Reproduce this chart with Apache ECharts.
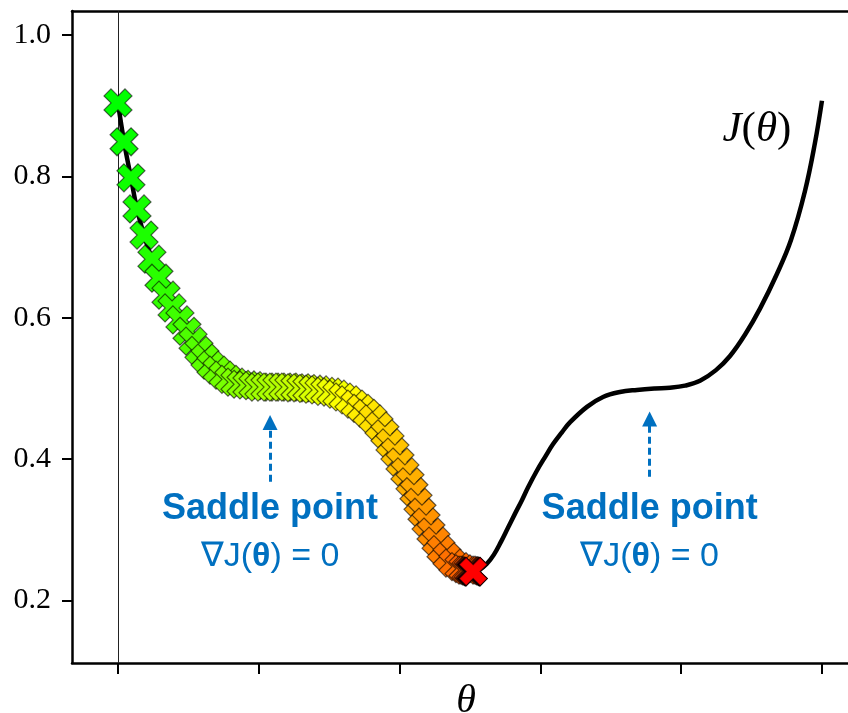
<!DOCTYPE html>
<html>
<head>
<meta charset="utf-8">
<title>Gradient descent on J(θ)</title>
<script src="https://cdn.jsdelivr.net/npm/echarts@6/dist/echarts.min.js"></script>
<style>
  html, body { margin: 0; padding: 0; background: #ffffff; }
  #chart { width: 848px; height: 713px; }
</style>
</head>
<body>
<div id="chart"></div>
<script>
// Cost curve J(θ)
const curveTheta = [
  0.000, 0.043, 0.092, 0.135, 0.185, 0.241, 0.341, 0.440, 0.533, 0.618,
  0.703, 0.788, 0.874, 1.001, 1.172, 1.342, 1.470, 1.598, 1.726, 1.854,
  1.967, 2.074, 2.159, 2.259, 2.337, 2.422, 2.486, 2.523, 2.570, 2.620,
  2.670, 2.720, 2.770, 2.820, 2.869, 2.912, 2.976, 3.033, 3.089, 3.153,
  3.210, 3.331, 3.445, 3.565, 3.686, 3.814, 3.920, 4.027, 4.134, 4.247,
  4.347, 4.453, 4.560, 4.680, 4.780, 4.879, 4.950, 5.000
];
const curveJ = [
  0.904, 0.849, 0.798, 0.754, 0.717, 0.683, 0.632, 0.597, 0.567, 0.543,
  0.526, 0.513, 0.506, 0.502, 0.502, 0.500, 0.496, 0.488, 0.472, 0.447,
  0.410, 0.368, 0.325, 0.284, 0.262, 0.248, 0.243, 0.241, 0.244, 0.252,
  0.265, 0.283, 0.303, 0.323, 0.342, 0.360, 0.384, 0.403, 0.421, 0.438,
  0.452, 0.474, 0.488, 0.495, 0.498, 0.500, 0.501, 0.504, 0.511, 0.526,
  0.546, 0.576, 0.613, 0.662, 0.710, 0.779, 0.847, 0.907
];

// Gradient descent iterates (θ_k, J(θ_k))
const stepTheta = [
  0.000, 0.043, 0.092, 0.135, 0.185, 0.241, 0.291, 0.341, 0.384, 0.440,
  0.490, 0.533, 0.575, 0.618, 0.661, 0.703, 0.746, 0.788, 0.831, 0.874,
  0.916, 0.959, 1.001, 1.044, 1.087, 1.129, 1.172, 1.214, 1.257, 1.300,
  1.342, 1.385, 1.428, 1.470, 1.513, 1.555, 1.598, 1.641, 1.683, 1.726,
  1.768, 1.811, 1.854, 1.896, 1.932, 1.967, 2.003, 2.038, 2.074, 2.102,
  2.131, 2.159, 2.188, 2.223, 2.259, 2.294, 2.337, 2.379, 2.422, 2.450,
  2.472, 2.486, 2.496, 2.503, 2.508, 2.512, 2.515, 2.517, 2.519, 2.520,
  2.521, 2.522, 2.522, 2.523
];
const stepJ = [
  0.904, 0.849, 0.798, 0.754, 0.717, 0.683, 0.656, 0.632, 0.614, 0.597,
  0.581, 0.567, 0.554, 0.543, 0.533, 0.526, 0.519, 0.513, 0.509, 0.506,
  0.505, 0.504, 0.502, 0.502, 0.502, 0.502, 0.502, 0.502, 0.501, 0.501,
  0.500, 0.499, 0.498, 0.496, 0.495, 0.492, 0.488, 0.484, 0.478, 0.472,
  0.465, 0.457, 0.447, 0.436, 0.423, 0.410, 0.396, 0.382, 0.368, 0.354,
  0.339, 0.325, 0.311, 0.297, 0.284, 0.272, 0.262, 0.253, 0.248, 0.245,
  0.243, 0.243, 0.242, 0.242, 0.242, 0.241, 0.241, 0.241, 0.241, 0.241,
  0.241, 0.241, 0.241, 0.241
];

const xTicks = [0, 1, 2, 3, 4, 5];
const yTicks = [0.2, 0.4, 0.6, 0.8, 1.0];

const saddleText = 'Saddle point';
const gradText = '∇J({b|θ}) = 0';

// Annotation anchors (θ, J) for the two saddle callouts
const notes = [
  { x: 1.080, title: 0.330, grad: 0.262, arrowFrom: 0.368, arrowTo: 0.452 },
  { x: 3.776, title: 0.330, grad: 0.262, arrowFrom: 0.375, arrowTo: 0.457 }
];

const BLUE = '#0070C0';
const crossPath = 'path://M0.25 0 L0.5 0.25 L0.75 0 L1 0.25 L0.75 0.5 L1 0.75 L0.75 1 L0.5 0.75 L0.25 1 L0 0.75 L0.25 0.5 L0 0.25 Z';

const curveData = curveTheta.map((t, i) => [t, curveJ[i]]);
const stepData = stepTheta.map((t, i) => [t, stepJ[i]]);
const nSteps = stepData.length;

// green -> yellow -> red along the iterations
function stepColor(i) {
  const hue = 120 * (1 - i / (nSteps - 1));
  return 'hsl(' + hue.toFixed(1) + ',100%,50%)';
}

const noteLabels = [];
notes.forEach(n => {
  noteLabels.push({ value: [n.x, n.title], label: { formatter: saddleText, fontWeight: 'bold', fontSize: 36 } });
  noteLabels.push({ value: [n.x, n.grad], label: { formatter: gradText, fontSize: 34 } });
});

const chart = echarts.init(document.getElementById('chart'), null, { renderer: 'canvas' });

chart.setOption({
  animation: false,
  backgroundColor: '#ffffff',
  grid: { left: 72, right: 0, top: 11, bottom: 50, containLabel: false, outerBoundsMode: 'none' },
  xAxis: [
    {
      type: 'value',
      min: -0.3267,
      max: 5.185,
      position: 'bottom',
      name: 'θ',
      nameLocation: 'middle',
      nameGap: 18,
      nameTextStyle: { fontFamily: 'Liberation Serif', fontStyle: 'italic', fontSize: 40, color: '#000', padding: [0, 0, 0, 12] },
      axisLine: { show: true, onZero: false, lineStyle: { color: '#000', width: 2.5 } },
      axisTick: { show: true, inside: false, length: 11, customValues: xTicks, lineStyle: { color: '#000', width: 2 } },
      axisLabel: { show: false },
      splitLine: { show: false }
    },
    {
      type: 'value',
      min: -0.3267,
      max: 5.185,
      position: 'top',
      axisLine: { show: true, onZero: false, lineStyle: { color: '#000', width: 2.5 } },
      axisTick: { show: false },
      axisLabel: { show: false },
      splitLine: { show: false }
    }
  ],
  yAxis: {
    type: 'value',
    min: 0.1117,
    max: 1.034,
    axisLine: { show: true, onZero: false, lineStyle: { color: '#000', width: 2.5 } },
    axisTick: { show: true, inside: false, length: 10, customValues: yTicks, lineStyle: { color: '#000', width: 2 } },
    axisLabel: {
      show: true,
      customValues: yTicks,
      margin: 21,
      formatter: v => v.toFixed(1),
      fontFamily: 'Liberation Serif',
      fontSize: 30,
      color: '#000'
    },
    splitLine: { show: false }
  },
  series: [
    {
      name: 'J(θ)',
      type: 'line',
      data: curveData,
      showSymbol: false,
      smooth: 0.4,
      lineStyle: { color: '#000', width: 4.5 },
      z: 2,
      silent: true,
      markLine: {
        silent: true,
        symbol: ['none', 'none'],
        label: { show: false },
        lineStyle: { color: '#222', width: 1, type: 'solid' },
        data: [{ xAxis: 0 }],
        z: 1
      },
      markPoint: {
        silent: true,
        symbol: 'circle',
        symbolSize: 1,
        itemStyle: { color: 'rgba(0,0,0,0)' },
        label: {
          show: true,
          position: 'inside',
          formatter: '{i|J}{u|(}{i|θ}{u|)}',
          rich: {
            i: { fontFamily: 'Liberation Serif', fontStyle: 'italic', fontSize: 43, color: '#000' },
            u: { fontFamily: 'Liberation Serif', fontSize: 43, color: '#000' }
          }
        },
        data: [{ coord: [4.538, 0.866] }]
      }
    },
    {
      name: 'steps',
      type: 'scatter',
      data: stepData,
      symbol: crossPath,
      symbolSize: 28,
      z: 5,
      silent: true,
      itemStyle: {
        color: p => stepColor(p.dataIndex),
        borderColor: 'rgba(0,0,0,0.6)',
        borderWidth: 1.2,
        opacity: 1
      }
    },
    {
      name: 'notes',
      type: 'scatter',
      data: noteLabels,
      symbol: 'circle',
      symbolSize: 1,
      silent: true,
      z: 6,
      itemStyle: { color: 'rgba(0,0,0,0)', opacity: 1 },
      label: {
        show: true,
        position: 'inside',
        color: BLUE,
        fontFamily: 'Liberation Sans',
        rich: {
          b: { fontFamily: 'Liberation Sans', fontWeight: 'bold', fontSize: 34, color: BLUE }
        }
      },
      markLine: {
        silent: true,
        symbol: ['none', 'triangle'],
        symbolSize: 15,
        label: { show: false },
        lineStyle: { color: BLUE, width: 3, type: [7, 4], opacity: 1 },
        itemStyle: { color: BLUE },
        data: notes.map(n => [
          { coord: [n.x, n.arrowFrom] },
          { coord: [n.x, n.arrowTo] }
        ])
      }
    }
  ]
});
</script>
</body>
</html>
